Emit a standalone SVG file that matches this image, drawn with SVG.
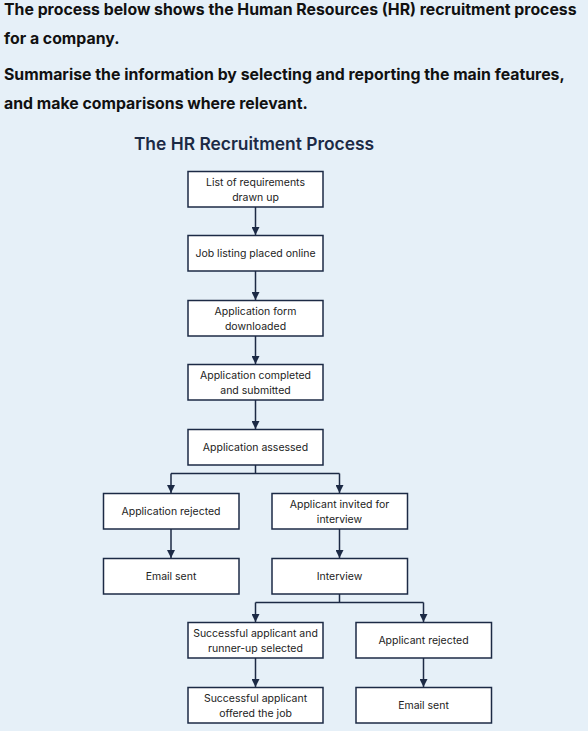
<svg xmlns="http://www.w3.org/2000/svg" width="588" height="731" viewBox="0 0 588 731">
<defs>
<style>
.hd{font-family:Inter,"Liberation Sans",sans-serif;font-size:15.85px;font-weight:700;fill:#111111}
.tt{font-family:Inter,"Liberation Sans",sans-serif;font-size:17.4px;font-weight:600;fill:#1c2a45}
.bx{fill:#ffffff;stroke:#1c2a45;stroke-width:1.5}
.lb{font-family:Inter,"Liberation Sans",sans-serif;font-size:10.5px;fill:#222222;text-anchor:middle}
.cn{fill:none;stroke:#1c2a45;stroke-width:1.5}
</style>
<marker id="ah" viewBox="0 0 10 10" refX="10" refY="5" markerWidth="8" markerHeight="8" markerUnits="userSpaceOnUse" orient="auto">
<path d="M0,0 L10,5 L0,10 z" fill="#1c2a45"/>
</marker>
</defs>
<rect width="588" height="731" fill="#e6f0f8"/>
<text class="hd" x="4" y="15">The process below shows the Human Resources (HR) recruitment process</text>
<text class="hd" x="4" y="44">for a company.</text>
<text class="hd" x="4" y="80">Summarise the information by selecting and reporting the main features,</text>
<text class="hd" x="4" y="109">and make comparisons where relevant.</text>
<text class="tt" x="254" y="150" text-anchor="middle">The HR Recruitment Process</text>

<g id="connectors">
<path class="cn" marker-end="url(#ah)" d="M255.5,207 V235"/>
<path class="cn" marker-end="url(#ah)" d="M255.5,271 V300"/>
<path class="cn" marker-end="url(#ah)" d="M255.5,336 V364"/>
<path class="cn" marker-end="url(#ah)" d="M255.5,400 V429"/>
<path class="cn" d="M255.5,465 V473.5 M171,473.5 H339.5"/>
<path class="cn" marker-end="url(#ah)" d="M171,473.5 V493"/>
<path class="cn" marker-end="url(#ah)" d="M339.5,473.5 V493"/>
<path class="cn" marker-end="url(#ah)" d="M171,529 V558"/>
<path class="cn" marker-end="url(#ah)" d="M339.5,529 V558"/>
<path class="cn" d="M339.5,594 V602.5 M255.5,602.5 H423.5"/>
<path class="cn" marker-end="url(#ah)" d="M255.5,602.5 V622"/>
<path class="cn" marker-end="url(#ah)" d="M423.5,602.5 V622"/>
<path class="cn" marker-end="url(#ah)" d="M255.5,658 V687"/>
<path class="cn" marker-end="url(#ah)" d="M423.5,658 V687"/>
</g>

<g id="n1"><rect class="bx" x="188" y="171.5" width="135" height="35.5"/><text class="lb" x="255.5" y="185.5">List of requirements</text><text class="lb" x="255.5" y="200.5">drawn up</text></g>
<g id="n2"><rect class="bx" x="188" y="235.5" width="135" height="35.5"/><text class="lb" x="255.5" y="257">Job listing placed online</text></g>
<g id="n3"><rect class="bx" x="188" y="300.5" width="135" height="35.5"/><text class="lb" x="255.5" y="314.5">Application form</text><text class="lb" x="255.5" y="329.5">downloaded</text></g>
<g id="n4"><rect class="bx" x="188" y="364.5" width="135" height="35.5"/><text class="lb" x="255.5" y="378.5">Application completed</text><text class="lb" x="255.5" y="393.5">and submitted</text></g>
<g id="n5"><rect class="bx" x="188" y="429.5" width="135" height="35.5"/><text class="lb" x="255.5" y="451">Application assessed</text></g>
<g id="n6"><rect class="bx" x="103.5" y="493.5" width="135.5" height="35.5"/><text class="lb" x="171" y="515">Application rejected</text></g>
<g id="n7"><rect class="bx" x="272" y="493.5" width="135.5" height="35.5"/><text class="lb" x="339.5" y="507.5">Applicant invited for</text><text class="lb" x="339.5" y="522.5">interview</text></g>
<g id="n8"><rect class="bx" x="103.5" y="558.5" width="135.5" height="35.5"/><text class="lb" x="171" y="580">Email sent</text></g>
<g id="n9"><rect class="bx" x="272" y="558.5" width="135.5" height="35.5"/><text class="lb" x="339.5" y="580">Interview</text></g>
<g id="n10"><rect class="bx" x="188" y="622.5" width="135" height="35.5"/><text class="lb" x="255.5" y="636.5">Successful applicant and</text><text class="lb" x="255.5" y="651.5">runner-up selected</text></g>
<g id="n11"><rect class="bx" x="356" y="622.5" width="135.5" height="35.5"/><text class="lb" x="423.5" y="644">Applicant rejected</text></g>
<g id="n12"><rect class="bx" x="188" y="687.5" width="135" height="35.5"/><text class="lb" x="255.5" y="701.5">Successful applicant</text><text class="lb" x="255.5" y="716.5">offered the job</text></g>
<g id="n13"><rect class="bx" x="356" y="687.5" width="135.5" height="35.5"/><text class="lb" x="423.5" y="709">Email sent</text></g>
</svg>
